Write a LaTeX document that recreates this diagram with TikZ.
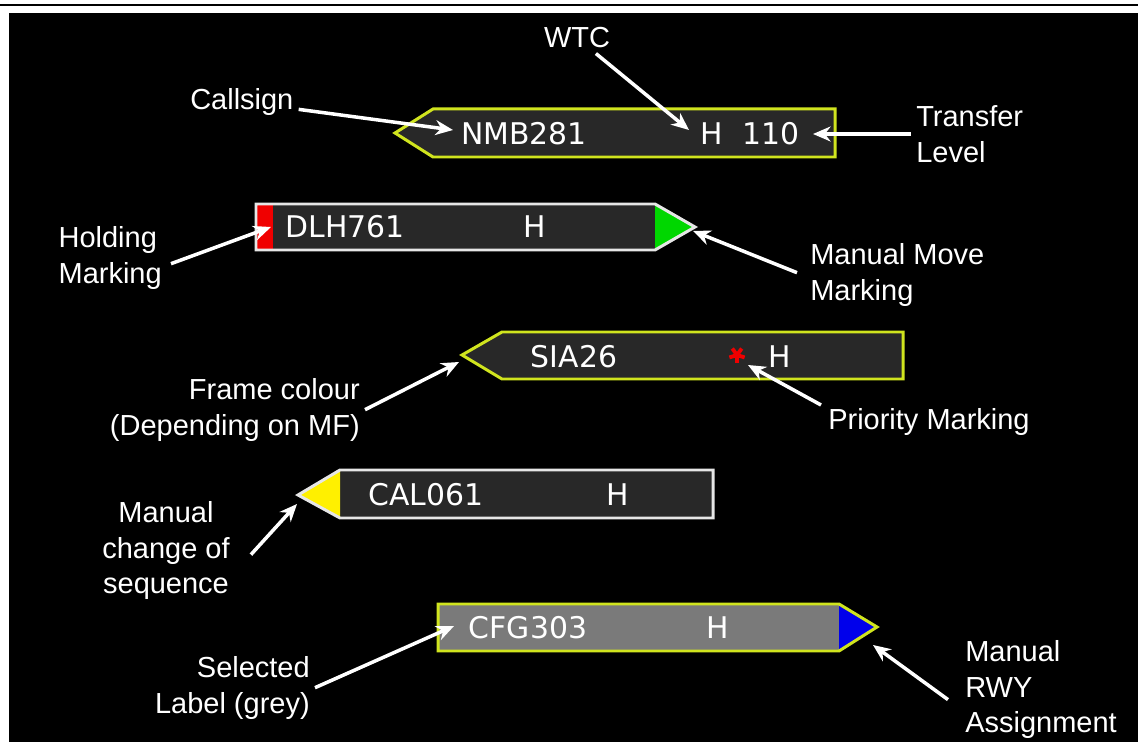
\documentclass[tikz,border=0pt]{standalone}
\usepackage{fontspec}
\setmainfont{Liberation Sans}
\newfontfamily\stripfont{DejaVu Sans}
\usetikzlibrary{arrows.meta,positioning}
\definecolor{mfyellow}{RGB}{208,228,30}
\definecolor{stripdark}{RGB}{40,40,40}
\definecolor{stripgrey}{RGB}{122,122,122}
\definecolor{framewhite}{RGB}{230,230,230}
\definecolor{holdred}{RGB}{240,0,0}
\definecolor{movegreen}{RGB}{0,215,0}
\definecolor{seqyellow}{RGB}{255,240,0}
\definecolor{rwyblue}{RGB}{0,0,235}

\begin{document}
\begin{tikzpicture}[x=0.02cm,y=-0.02cm,
  every node/.style={font=\fontsize{16.5}{20.4}\selectfont,text=white,inner sep=0pt},
  note/.style={outer sep=3pt},
  strip/.style={line width=1.7pt,line join=miter},
  stxt/.style={font=\stripfont\fontsize{17}{20}\selectfont},
  pointer/.style={draw=white,line width=2pt,-{Stealth[length=10pt,width=8.5pt]}}]
\useasboundingbox (0,0) rectangle (1138,742);
\fill[white] (0,0) rectangle (1138,742);
\draw[line width=1.6pt] (0,5) -- (1138,5);
\fill[black] (9,13) rectangle (1138,742);

% NMB281
\draw[strip,draw=mfyellow,fill=stripdark] (395,133) -- (433,109) -- (835,109) -- (835,157) -- (433,157) -- cycle;
\node[stxt] (nmb) at (524,134) {NMB281};
\node[stxt] (nmbwtc) at (712,134) {H};
\node[stxt] (nmblvl) at (771,134) {110};
\coordinate (csgtip) at (453,130);
\coordinate (wtctip) at (689,130);
\coordinate (lvltip) at (813,134);

% DLH761
\fill[stripdark] (256,204) -- (655,204) -- (695,227) -- (655,250) -- (256,250) -- cycle;
\fill[holdred] (256,204) rectangle (273,250);
\fill[movegreen] (655,204) -- (695,227) -- (655,250) -- cycle;
\draw[strip,draw=framewhite] (256,204) -- (655,204) -- (695,227) -- (655,250) -- (256,250) -- cycle;
\node[stxt] (dlh) at (345,227) {DLH761};
\node[stxt] (dlhwtc) at (535,227) {H};
\coordinate (holdtip) at (271,227);
\coordinate (movetip) at (693,231);

% SIA26
\draw[strip,draw=mfyellow,fill=stripdark] (462,355) -- (502,332) -- (903,332) -- (903,379) -- (502,379) -- cycle;
\node[stxt] (sia) at (574,357) {SIA26};
\node[stxt] (siawtc) at (780,357) {H};
\coordinate (ast) at (737,355);
\foreach \a in {90,162,234,306,378}
  \draw[holdred,line width=2.2pt] (ast) -- ++(\a:8);
\coordinate (frametip) at (459,362);
\coordinate (priotip) at (748,365);

% CAL061
\fill[stripdark] (298,495) -- (340,470) -- (713,470) -- (713,518) -- (340,518) -- cycle;
\fill[seqyellow] (298,495) -- (340,470) -- (340,518) -- cycle;
\draw[strip,draw=framewhite] (298,495) -- (340,470) -- (713,470) -- (713,518) -- (340,518) -- cycle;
\node[stxt] (cal) at (426,495) {CAL061};
\node[stxt] (calwtc) at (618,495) {H};
\coordinate (seqtip) at (297,504);

% CFG303
\fill[stripgrey] (438,604) -- (839,604) -- (877,627) -- (839,651) -- (438,651) -- cycle;
\fill[rwyblue] (839,604) -- (877,627) -- (839,651) -- cycle;
\draw[strip,draw=mfyellow] (438,604) -- (839,604) -- (877,627) -- (839,651) -- (438,651) -- cycle;
\node[stxt] (cfg) at (528,628) {CFG303};
\node[stxt] (cfgwtc) at (718,628) {H};
\coordinate (seltip) at (454,626);
\coordinate (rwytip) at (873,645);

% explanations
\node[note] (wtc) at (577,38) {WTC};
\node[note,anchor=north west] (callsign) at (185,83) {Callsign};
\node[note,anchor=north west,align=left] (transfer) at (911,100) {Transfer\\Level};
\node[note,anchor=north east,align=left] (holding) at (167,221) {Holding\\Marking};
\node[note,anchor=north west,align=left] (move) at (805,238) {Manual Move\\Marking};
\node[note,anchor=north east,align=right] (frame) at (365,373) {Frame colour\\(Depending on MF)};
\node[note,anchor=north west] (prio) at (823,403) {Priority Marking};
\node[note,anchor=north,align=center] (seq) at (166,496) {Manual\\change of\\sequence};
\node[note,anchor=north east,align=right] (sel) at (315,651) {Selected\\Label (grey)};
\node[note,anchor=north west,align=left] (rwy) at (960,635) {Manual\\RWY\\Assignment};

\draw[pointer] (wtc) -- (wtctip);
\draw[pointer] (callsign) -- (csgtip);
\draw[pointer] (transfer.west |- lvltip) -- (lvltip);
\draw[pointer] ([shift={(4,6)}]holding.east) -- (holdtip);
\draw[pointer] ([shift={(-8,-2)}]move.west) -- (movetip);
\draw[pointer] (frame.east) -- (frametip);
\draw[pointer] ([shift={(-2,2)}]prio.north west) -- (priotip);
\draw[pointer] ([shift={(16,4)}]seq.east) -- (seqtip);
\draw[pointer] (sel.east) -- (seltip);
\draw[pointer] ([shift={(-12,10)}]rwy.west) -- (rwytip);
\end{tikzpicture}
\end{document}
